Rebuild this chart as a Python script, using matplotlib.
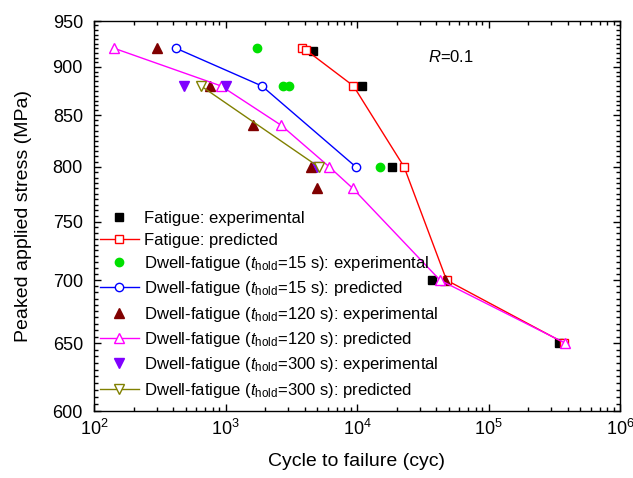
import matplotlib
matplotlib.use('Agg')
import matplotlib.pyplot as plt
import numpy as np
from matplotlib.ticker import FixedLocator, NullFormatter, LogLocator

plt.rcParams['font.family'] = 'Liberation Sans'
plt.rcParams['mathtext.fontset'] = 'custom'
plt.rcParams['mathtext.rm'] = 'Liberation Sans'
plt.rcParams['mathtext.it'] = 'Liberation Sans:italic'

# Fatigue
fat_exp_n = [4650, 11000, 18400, 37000, 343000]
fat_exp_s = [917, 880, 800, 700, 650]
fat_pre_n = [3800, 4100, 9400, 22800, 48000, 377000]
fat_pre_s = [920, 918, 880, 800, 700, 650]

# Dwell-fatigue, t_hold = 15 s
d15_exp_n = [1750, 2750, 3050, 15000]
d15_exp_s = [920, 880, 880, 800]
d15_pre_n = [420, 1890, 9800]
d15_pre_s = [920, 880, 800]

# Dwell-fatigue, t_hold = 120 s
d120_exp_n = [300, 760, 1610, 4500, 4940, 47000]
d120_exp_s = [920, 880, 840, 800, 780, 700]
d120_pre_n = [142, 925, 2660, 6150, 9280, 42800, 382000]
d120_pre_s = [920, 880, 840, 800, 780, 700, 650]

# Dwell-fatigue, t_hold = 300 s
d300_exp_n = [486, 1000, 4940]
d300_exp_s = [880, 880, 800]
d300_pre_n = [651, 5110]
d300_pre_s = [880, 800]

fig = plt.figure(figsize=(6.33, 4.78), dpi=100)
ax = fig.add_axes([94 / 633, 1 - 411 / 478, 526 / 633, 390 / 478])

ms = 6
ax.plot(fat_exp_n, fat_exp_s, 's', color='black', ms=ms,
        label='Fatigue: experimental')
ax.plot(fat_pre_n, fat_pre_s, '-s', color='red', mfc='white', ms=ms, lw=1,
        label='Fatigue: predicted')
ax.plot(d15_exp_n, d15_exp_s, 'o', color='#00e000', ms=ms,
        label=r'Dwell-fatigue ($t_{\rm hold}$=15 s): experimental')
ax.plot(d15_pre_n, d15_pre_s, '-o', color='blue', mfc='white', ms=ms, lw=1,
        label=r'Dwell-fatigue ($t_{\rm hold}$=15 s): predicted')
ax.plot(d120_exp_n, d120_exp_s, '^', color='#800000', ms=ms + 1,
        label=r'Dwell-fatigue ($t_{\rm hold}$=120 s): experimental')
ax.plot(d120_pre_n, d120_pre_s, '-^', color='magenta', mfc='white', ms=ms + 1,
        lw=1, label=r'Dwell-fatigue ($t_{\rm hold}$=120 s): predicted')
ax.plot(d300_exp_n, d300_exp_s, 'v', color='#8000ff', ms=ms + 1,
        label=r'Dwell-fatigue ($t_{\rm hold}$=300 s): experimental')
ax.plot(d300_pre_n, d300_pre_s, '-v', color='#808000', mfc='white', ms=ms + 1,
        lw=1, label=r'Dwell-fatigue ($t_{\rm hold}$=300 s): predicted')

ax.set_xscale('log')
ax.set_yscale('log')
ax.set_xlim(1e2, 1e6)
ax.set_ylim(600, 950)

ax.xaxis.set_major_locator(LogLocator(base=10, numticks=10))
ax.xaxis.set_minor_locator(LogLocator(base=10, subs=np.arange(2, 10), numticks=20))
ax.xaxis.set_minor_formatter(NullFormatter())
ax.yaxis.set_major_locator(FixedLocator(np.arange(600, 951, 50)))
ax.yaxis.set_minor_locator(FixedLocator(np.arange(600, 951, 5)))
ax.yaxis.set_major_formatter(plt.FuncFormatter(lambda v, p: '%d' % v))
ax.yaxis.set_minor_formatter(NullFormatter())

ax.tick_params(which='both', direction='in', labelsize=13, width=1)
ax.tick_params(which='major', length=5)
ax.tick_params(which='minor', length=3)
ax.tick_params(which='both', top=True, right=True)
ax.tick_params(axis='y', pad=8)
ax.tick_params(axis='x', pad=6)
for s in ax.spines.values():
    s.set_linewidth(1)

ax.set_xlabel('Cycle to failure (cyc)', fontsize=14, labelpad=10)
ax.set_ylabel('Peaked applied stress (MPa)', fontsize=14, labelpad=15)

ax.text(0.679, 0.908, r'$\it{R}$=0.1', fontsize=12, ha='center', va='center',
        transform=ax.transAxes)

ax.legend(loc='upper left', bbox_to_anchor=(0.012, 0.512), frameon=False,
          fontsize=12, handlelength=2.3, handletextpad=0.3, labelspacing=0.38,
          borderaxespad=0, borderpad=0)

fig.savefig('out.png', dpi=100)
